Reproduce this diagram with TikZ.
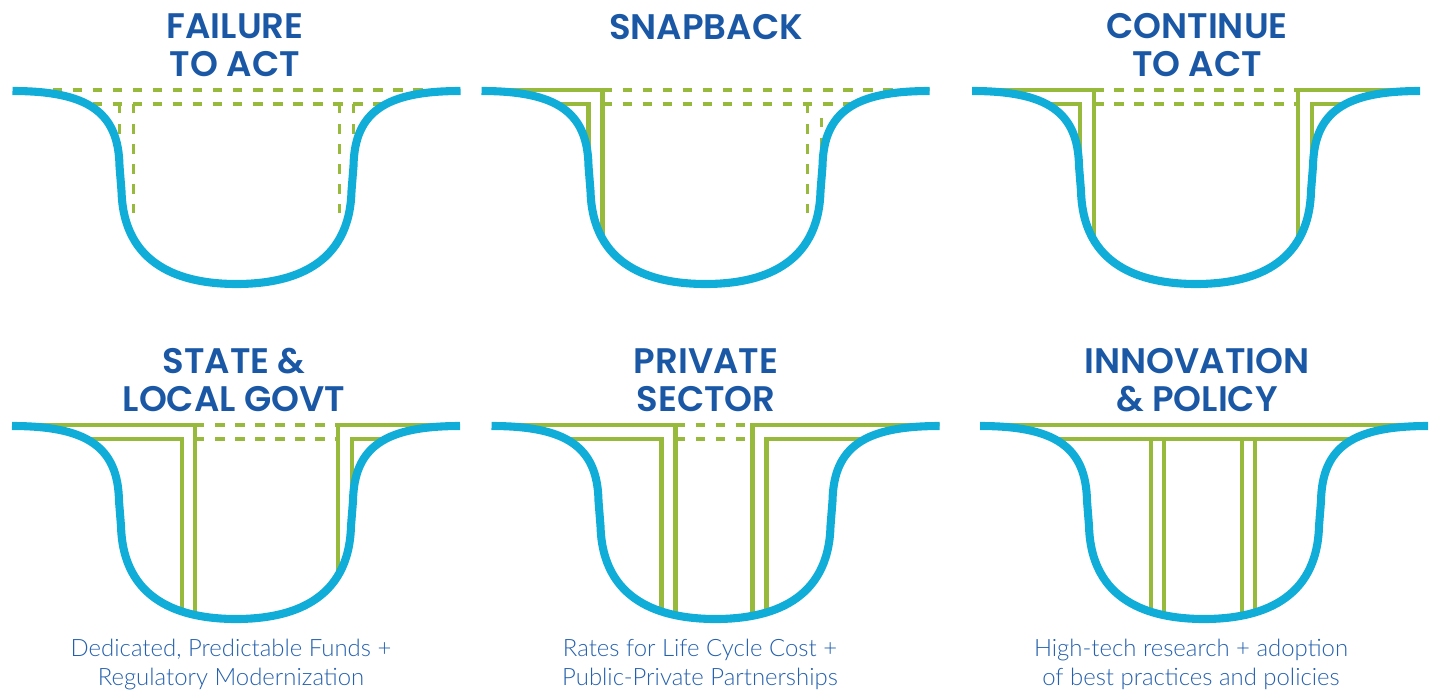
\documentclass[tikz,border=0pt]{standalone}
\usepackage{fontspec}
\newfontfamily\headfont{Poppins SemiBold}
\newfontfamily\notefont{Lato Light}
\usetikzlibrary{
    positioning   % Relative positioning
}

\definecolor{bowlblue}{RGB}{16,173,216}
\definecolor{deckgreen}{RGB}{151,185,60}
\definecolor{headblue}{RGB}{26,88,166}
\definecolor{noteblue}{RGB}{36,96,174}

% the river bed, top centre at (0,0), y grows downwards
\newcommand{\bowlcurve}{(-224,0) .. controls (-150,0) and (-118,20) .. (-117,75)
    -- (-115,100) .. controls (-113,175) and (-55,193) .. (0,193)
    .. controls (55,193) and (113,175) .. (115,100) -- (117,75)
    .. controls (118,20) and (150,0) .. (224,0)}
\newcommand{\bowlclip}{\bowlcurve -- (224,-40) -- (-224,-40) -- cycle}

\tikzset{
    bowl/.style={draw=bowlblue, line width=2.3pt},
    deck/.style={draw=deckgreen, line width=1.2pt, line join=miter},
    ghost/.style={draw=deckgreen, line width=0.9pt, dash pattern=on 2.7pt off 3pt},
    headline/.style={text=headblue, align=center, inner sep=0pt,
        font=\headfont\fontsize{10.1}{10.6}\selectfont},
    caption/.style={text=noteblue, align=center, inner sep=0pt,
        font=\notefont\fontsize{6.8}{8.25}\selectfont}
}

\begin{document}
\begin{tikzpicture}[x=0.01cm, y=-0.01cm]
    \useasboundingbox (0,0) rectangle (1437,694);

    % titles (base = last line)
    \node[headline, anchor=base] (failtitle) at (235,76) {FAILURE\\TO ACT};
    \node[headline, anchor=base] (snaptitle) at (706,39) {SNAPBACK};
    \node[headline, anchor=base] (contitle) at (1197,76) {CONTINUE\\TO ACT};
    \node[headline, anchor=base] (statetitle) at (234,411) {STATE \&\\LOCAL GOVT};
    \node[headline, anchor=base] (privtitle) at (706,411) {PRIVATE\\SECTOR};
    \node[headline, anchor=base] (innotitle) at (1197,411) {INNOVATION\\\& POLICY};

    % notes under the lower row
    \node[caption, anchor=base] (statenote) at (231,685) {Dedicated, Predictable Funds +\\Regulatory Modernization};
    \node[caption, anchor=base] (privnote) at (700,685) {Rates for Life Cycle Cost +\\Public-Private Partnerships};
    \node[caption, anchor=base] (innonote) at (1191,685) {High-tech research + adoption\\of best practices and policies};

    % failure to act
    \begin{scope}[shift={(236.5,91)}]
        \begin{scope}
            \clip \bowlclip;
            \draw[ghost] (-224,-1) -- (224,-1) (-224,13) -- (224,13);
            \foreach \s in {-1,1}
                \draw[ghost] (\s*103,13) -- (\s*103,122) (\s*117,13) -- (\s*117,90);
        \end{scope}
        \draw[bowl] \bowlcurve;
    \end{scope}

    % snapback
    \begin{scope}[shift={(705.5,91)}]
        \begin{scope}
            \clip \bowlclip;
            \draw[deck] (-224,-1) -- (-103,-1) -- (-103,200);
            \draw[deck] (-224,13) -- (-117,13) -- (-117,200);
            \draw[ghost] (-103,-1) -- (224,-1) (-103,13) -- (224,13);
            \draw[ghost] (102,13) -- (102,122) (116,27) -- (116,90);
        \end{scope}
        \draw[bowl] \bowlcurve;
    \end{scope}

    % continue to act
    \begin{scope}[shift={(1196,91)}]
        \begin{scope}
            \clip \bowlclip;
            \foreach \s in {-1,1} {
                \draw[deck] (\s*224,-1) -- (\s*102,-1) -- (\s*102,200);
                \draw[deck] (\s*224,13) -- (\s*116,13) -- (\s*116,200);
            }
            \draw[ghost] (-102,-1) -- (102,-1) (-102,13) -- (102,13);
        \end{scope}
        \draw[bowl] \bowlcurve;
    \end{scope}

    % state & local govt
    \begin{scope}[shift={(236,426)}]
        \begin{scope}
            \clip \bowlclip;
            \draw[deck] (-224,-1) -- (-41,-1) -- (-41,200);
            \draw[deck] (-224,13) -- (-54,13) -- (-54,200);
            \draw[deck] (224,-1) -- (102,-1) -- (102,200);
            \draw[deck] (224,13) -- (116,13) -- (116,200);
            \draw[ghost] (-41,-1) -- (102,-1) (-41,13) -- (102,13);
        \end{scope}
        \draw[bowl] \bowlcurve;
    \end{scope}

    % private sector
    \begin{scope}[shift={(715.5,426)}]
        \begin{scope}
            \clip \bowlclip;
            \draw[deck] (-224,-1) -- (-40,-1) -- (-40,200);
            \draw[deck] (-224,13) -- (-54,13) -- (-54,200);
            \draw[deck] (224,-1) -- (37,-1) -- (37,200);
            \draw[deck] (224,13) -- (51,13) -- (51,200);
            \draw[ghost] (-40,-1) -- (37,-1) (-40,13) -- (37,13);
        \end{scope}
        \draw[bowl] \bowlcurve;
    \end{scope}

    % innovation & policy
    \begin{scope}[shift={(1204,426)}]
        \begin{scope}
            \clip \bowlclip;
            \draw[deck] (-224,-1) -- (224,-1) (-224,13) -- (224,13);
            \foreach \x in {-53,-40,38,51}
                \draw[deck] (\x,13) -- (\x,200);
        \end{scope}
        \draw[bowl] \bowlcurve;
    \end{scope}
\end{tikzpicture}
\end{document}
